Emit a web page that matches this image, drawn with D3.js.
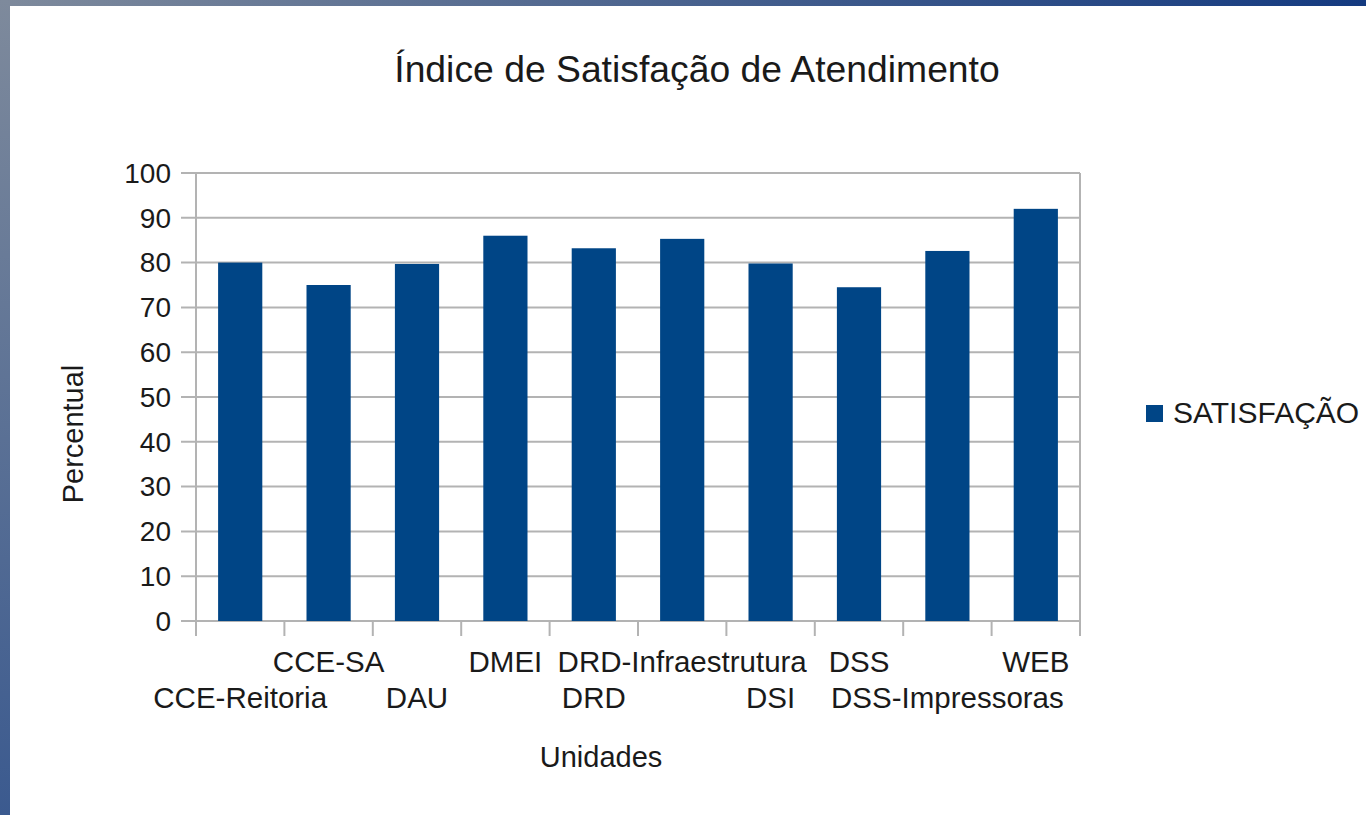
<!DOCTYPE html>
<html>
<head>
<meta charset="utf-8">
<script src="https://cdn.jsdelivr.net/npm/d3@7.9.0/dist/d3.min.js"></script>
<style>
  html, body { margin: 0; padding: 0; background: #fff; }
  svg { display: block; font-family: "Liberation Sans", Arial, sans-serif; }
</style>
</head>
<body>
<svg id="chart" width="1366" height="815"></svg>
<script>
const categories = ['CCE-Reitoria', 'CCE-SA', 'DAU', 'DMEI', 'DRD', 'DRD-Infraestrutura', 'DSI', 'DSS', 'DSS-Impressoras', 'WEB'];
const satisfacao = [80, 75, 79.7, 86, 83.2, 85.3, 79.8, 74.5, 82.6, 92];
const yTicks = [0, 10, 20, 30, 40, 50, 60, 70, 80, 90, 100];
const seriesName = 'SATISFAÇÃO';
const title = 'Índice de Satisfação de Atendimento';
const xTitle = 'Unidades';
const yTitle = 'Percentual';

const svg = d3.select('#chart');
const W = 1366, H = 815;
const plot = { left: 196, right: 1080, top: 173, bottom: 621 };
const gridColor = '#b3b3b3';
const barColor = '#004586';
const textColor = '#1a1a1a';

// page frame (gradient border on top / left)
const defs = svg.append('defs');
const gTop = defs.append('linearGradient').attr('id', 'gTop').attr('x1', 0).attr('x2', 1).attr('y1', 0).attr('y2', 0);
gTop.append('stop').attr('offset', 0).attr('stop-color', '#7e8a9c');
gTop.append('stop').attr('offset', 1).attr('stop-color', '#143a80');
const gLeft = defs.append('linearGradient').attr('id', 'gLeft').attr('x1', 0).attr('x2', 0).attr('y1', 0).attr('y2', 1);
gLeft.append('stop').attr('offset', 0).attr('stop-color', '#7e8a9c');
gLeft.append('stop').attr('offset', 1).attr('stop-color', '#3b5a8f');
svg.append('rect').attr('x', 0).attr('y', 0).attr('width', W).attr('height', 6).attr('fill', 'url(#gTop)');
svg.append('rect').attr('x', 0).attr('y', 0).attr('width', 10).attr('height', H).attr('fill', 'url(#gLeft)');

const x = d3.scaleBand()
  .domain(categories)
  .range([plot.left, plot.right])
  .paddingInner(0.5)
  .paddingOuter(0.25);
const y = d3.scaleLinear()
  .domain([0, 100])
  .range([plot.bottom, plot.top]);

// horizontal gridlines + y ticks
svg.append('g')
  .selectAll('line')
  .data(yTicks)
  .join('line')
  .attr('x1', plot.left - 15)
  .attr('x2', plot.right)
  .attr('y1', d => y(d))
  .attr('y2', d => y(d))
  .attr('stroke', gridColor)
  .attr('stroke-width', 2);

// left / right borders
svg.append('g')
  .selectAll('line')
  .data([plot.left, plot.right])
  .join('line')
  .attr('x1', d => d).attr('x2', d => d)
  .attr('y1', plot.top).attr('y2', plot.bottom)
  .attr('stroke', gridColor)
  .attr('stroke-width', 2);

// category boundary ticks
const step = x.step();
const bounds = d3.range(categories.length + 1).map(i => plot.left + i * step);
svg.append('g')
  .selectAll('line')
  .data(bounds)
  .join('line')
  .attr('x1', d => d).attr('x2', d => d)
  .attr('y1', plot.bottom).attr('y2', plot.bottom + 15)
  .attr('stroke', gridColor)
  .attr('stroke-width', 2);

// y labels
svg.append('g')
  .selectAll('text')
  .data(yTicks)
  .join('text')
  .attr('x', plot.left - 25)
  .attr('y', d => y(d))
  .attr('dy', '0.35em')
  .attr('text-anchor', 'end')
  .attr('font-size', 28)
  .attr('fill', textColor)
  .text(d => d);

// bars
svg.append('g')
  .selectAll('rect')
  .data(categories.map((c, i) => ({ c, v: satisfacao[i] })))
  .join('rect')
  .attr('x', d => x(d.c))
  .attr('y', d => y(d.v))
  .attr('width', x.bandwidth())
  .attr('height', d => y(0) - y(d.v))
  .attr('fill', barColor);

// category labels, staggered on two rows
svg.append('g')
  .selectAll('text')
  .data(categories)
  .join('text')
  .attr('x', d => x(d) + x.bandwidth() / 2)
  .attr('y', (d, i) => i % 2 === 0 ? 708 : 672)
  .attr('text-anchor', 'middle')
  .attr('font-size', 29.5)
  .attr('fill', textColor)
  .text(d => d);

// titles
svg.append('text')
  .attr('x', 697).attr('y', 82)
  .attr('text-anchor', 'middle')
  .attr('font-size', 37.3)
  .attr('fill', textColor)
  .text(title);

svg.append('text')
  .attr('x', 601).attr('y', 767)
  .attr('text-anchor', 'middle')
  .attr('font-size', 29)
  .attr('fill', textColor)
  .text(xTitle);

svg.append('text')
  .attr('transform', 'translate(83,434) rotate(-90)')
  .attr('text-anchor', 'middle')
  .attr('font-size', 29)
  .attr('fill', textColor)
  .text(yTitle);

// legend
const legend = svg.append('g').attr('transform', 'translate(1146,405)');
legend.append('rect').attr('width', 17).attr('height', 17).attr('fill', barColor);
legend.append('text')
  .attr('x', 27).attr('y', 18)
  .attr('font-size', 30)
  .attr('fill', textColor)
  .text(seriesName);
</script>
</body>
</html>
